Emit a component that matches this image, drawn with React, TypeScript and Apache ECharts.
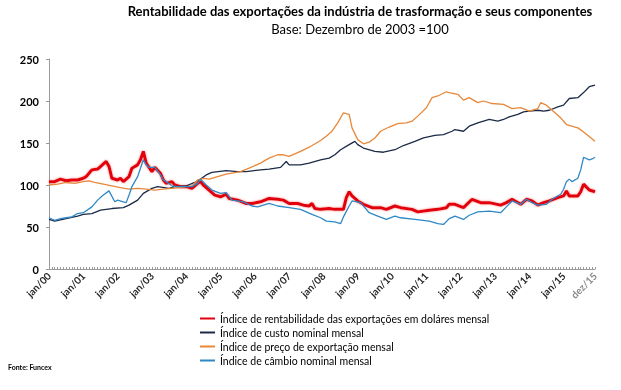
import React, { useEffect, useRef } from "react";
import * as echarts from "echarts";

const monthNames = ["jan", "fev", "mar", "abr", "mai", "jun", "jul", "ago", "set", "out", "nov", "dez"];
const years = ["00", "01", "02", "03", "04", "05", "06", "07", "08", "09", "10", "11", "12", "13", "14", "15"];
const categories = years.flatMap((y) => monthNames.map((m) => `${m}/${y}`));

const seriesNames = [
  "Índice de rentabilidade das exportações em doláres mensal",
  "Índice de custo nominal mensal",
  "Índice de preço de exportação mensal",
  "Índice de câmbio nominal mensal",
];

// [month index from jan/00, value]
const rentabilidade: [number, number][] = [
  [0, 104], [2, 104], [4, 107], [6, 105], [8, 106], [10, 106], [12, 108], [13, 110], [14, 114], [15, 118],
  [17, 119], [18, 122], [20, 128], [21, 122], [22, 108], [24, 106], [25, 108], [26, 104], [28, 110], [29, 120],
  [31, 124], [32, 130], [33, 140], [34, 126], [35, 121], [36, 116], [37, 121], [39, 114], [40, 106], [41, 102],
  [43, 104], [44, 100], [46, 98], [48, 98], [50, 96], [52, 102], [53, 104], [54, 100], [56, 94], [58, 88],
  [60, 86], [62, 89], [63, 84], [66, 82], [69, 78], [71, 78], [74, 80], [77, 84], [80, 83], [82, 82],
  [84, 78], [87, 78], [89, 76], [91, 75], [92, 78], [93, 72], [95, 71], [98, 72], [100, 71], [103, 71],
  [104, 85], [105, 92], [106, 87], [108, 81], [110, 77], [113, 73], [116, 73], [118, 71], [121, 75], [123, 73],
  [127, 71], [129, 68], [133, 70], [136, 71], [139, 73], [140, 77], [142, 77], [145, 73], [148, 83], [151, 79],
  [154, 79], [158, 76], [160, 79], [162, 83], [165, 77], [167, 83], [169, 81], [171, 76], [173, 79], [175, 81],
  [178, 85], [180, 87], [181, 93], [182, 87], [185, 87], [186, 92], [187, 101], [189, 94], [191, 92],
];

const custo: [number, number][] = [
  [0, 59], [2, 57], [6, 60], [10, 63], [12, 65], [15, 66], [18, 70], [22, 72], [26, 73], [28, 76],
  [31, 82], [33, 90], [36, 96], [38, 98], [42, 96], [44, 98], [48, 99], [51, 103], [53, 107], [55, 112],
  [57, 115], [62, 117], [66, 116], [69, 116], [74, 118], [77, 119], [81, 121], [83, 128], [84, 124], [88, 124],
  [91, 126], [95, 130], [98, 132], [100, 136], [102, 142], [105, 148], [107, 152], [108, 148], [110, 144], [114, 140],
  [117, 139], [121, 142], [124, 147], [128, 152], [131, 156], [135, 159], [138, 160], [141, 164], [142, 166], [145, 164],
  [147, 170], [150, 174], [152, 176], [154, 178], [157, 176], [159, 178], [161, 181], [164, 184], [166, 187], [168, 188],
  [171, 189], [173, 188], [175, 189], [178, 193], [180, 195], [182, 203], [185, 204], [187, 210], [189, 217], [191, 219],
];

const preco: [number, number][] = [
  [0, 100], [3, 101], [6, 103], [9, 102], [12, 104], [14, 105], [16, 103], [19, 101], [22, 99], [25, 97],
  [28, 95], [31, 96], [34, 95], [37, 94], [40, 95], [43, 96], [46, 97], [48, 98], [50, 99], [52, 106],
  [54, 108], [56, 107], [59, 110], [62, 113], [67, 116], [70, 120], [74, 126], [77, 132], [80, 136], [82, 136],
  [84, 134], [88, 140], [91, 145], [95, 153], [97, 158], [99, 164], [101, 174], [103, 186], [105, 184], [106, 168],
  [108, 154], [110, 149], [112, 151], [114, 156], [116, 164], [119, 169], [122, 173], [125, 174], [127, 176], [129, 182],
  [132, 192], [134, 204], [136, 206], [139, 211], [140, 210], [143, 208], [145, 201], [147, 204], [150, 198], [152, 200],
  [155, 197], [159, 196], [162, 191], [165, 192], [168, 188], [171, 191], [172, 198], [174, 195], [176, 189], [179, 180],
  [181, 172], [185, 168], [187, 163], [191, 152],
];

const cambio: [number, number][] = [
  [0, 61], [2, 58], [4, 60], [6, 61], [8, 62], [10, 66], [12, 67], [15, 74], [17, 82], [19, 88],
  [21, 93], [23, 80], [24, 82], [26, 80], [27, 79], [28, 88], [29, 98], [31, 110], [32, 120], [33, 130],
  [34, 124], [35, 121], [37, 121], [39, 112], [40, 106], [41, 104], [43, 99], [45, 98], [48, 98], [50, 98],
  [52, 102], [53, 107], [55, 100], [57, 94], [60, 90], [62, 91], [64, 82], [68, 80], [71, 75], [73, 74],
  [77, 78], [80, 75], [84, 73], [88, 71], [92, 65], [95, 61], [97, 57], [100, 56], [102, 54], [103, 62],
  [105, 75], [106, 81], [109, 79], [112, 67], [115, 63], [118, 59], [121, 63], [123, 61], [128, 59], [133, 57],
  [136, 54], [138, 53], [140, 60], [142, 63], [145, 59], [147, 64], [150, 68], [154, 69], [158, 67], [160, 74],
  [162, 81], [165, 77], [167, 83], [169, 79], [171, 76], [174, 77], [176, 83], [179, 89], [180, 95], [181, 104],
  [182, 107], [183, 104], [185, 108], [186, 118], [187, 133], [189, 130], [190, 131], [191, 133],
];

const yTicks = { min: 0, max: 250, interval: 50 };
const colors = ["#e2000e", "#1c2a48", "#e8883a", "#2f88c6"];
const FONT = "Lato, 'Open Sans', sans-serif";

export default function App() {
  const ref = useRef<HTMLDivElement>(null);
  useEffect(() => {
    const chart = echarts.init(ref.current!, null, { renderer: "svg" });
    const dataSets = [rentabilidade, custo, preco, cambio];
    chart.setOption({
      animation: false,
      color: colors,
      textStyle: { fontFamily: FONT },
      graphic: [
        {
          type: "text",
          style: {
            text: "Rentabilidade das exportações da indústria de trasformação e seus componentes",
            x: 360, y: 4, textAlign: "center",
            font: `bold 13px ${FONT}`, fill: "#000",
          },
        },
        {
          type: "text",
          style: {
            text: "Base: Dezembro de 2003 =100",
            x: 360, y: 22, textAlign: "center",
            font: `13px ${FONT}`, fill: "#000",
          },
        },
        {
          type: "text",
          style: {
            text: "Fonte: Funcex",
            x: 8, y: 363,
            font: `bold 7px ${FONT}`, fill: "#000",
          },
        },
      ],
      grid: { left: 49, right: 26, top: 59, bottom: 121, containLabel: false },
      legend: {
        orient: "vertical",
        left: 200,
        top: 313,
        padding: 0,
        itemGap: 3,
        itemWidth: 15,
        itemHeight: 2,
        icon: "rect",
        textStyle: { fontSize: 10.5, color: "#000", fontFamily: FONT },
        data: seriesNames,
      },
      xAxis: {
        type: "category",
        data: categories,
        boundaryGap: false,
        axisLine: { lineStyle: { color: "#9a9a9a", width: 1 } },
        axisTick: { interval: 0, length: 2, inside: true, lineStyle: { color: "#9a9a9a" } },
        axisLabel: {
          interval: (i: number) => i % 12 === 0 || i === categories.length - 1,
          rotate: 45,
          margin: 5,
          fontSize: 10,
          fontWeight: "bold",
          color: "#262626",
          fontFamily: FONT,
          formatter: (v: string, i: number) => (i === categories.length - 1 ? `{g|${v}}` : v),
          rich: { g: { color: "#8a8a8a", fontSize: 10, fontWeight: "bold", fontFamily: FONT } },
        },
        splitLine: { show: false },
      },
      yAxis: {
        type: "value",
        min: yTicks.min,
        max: yTicks.max,
        interval: yTicks.interval,
        axisLine: { show: true, lineStyle: { color: "#9a9a9a" } },
        axisTick: { show: true, length: 3, lineStyle: { color: "#9a9a9a" } },
        axisLabel: { fontSize: 11, fontWeight: "bold", color: "#000", margin: 10, fontFamily: FONT },
        splitLine: { show: false },
      },
      series: dataSets.map((d, k) => ({
        name: seriesNames[k],
        type: "line",
        data: d,
        symbol: "none",
        smooth: false,
        lineStyle:
          k === 0
            ? { width: 3, color: colors[0], shadowColor: "rgba(255,90,90,0.7)", shadowBlur: 2 }
            : { width: 1.3, color: colors[k] },
        z: 2 + k,
      })),
    });
    return () => chart.dispose();
  }, []);
  return <div ref={ref} style={{ position: "fixed", left: 0, top: 0, width: 621, height: 390 }} />;
}
